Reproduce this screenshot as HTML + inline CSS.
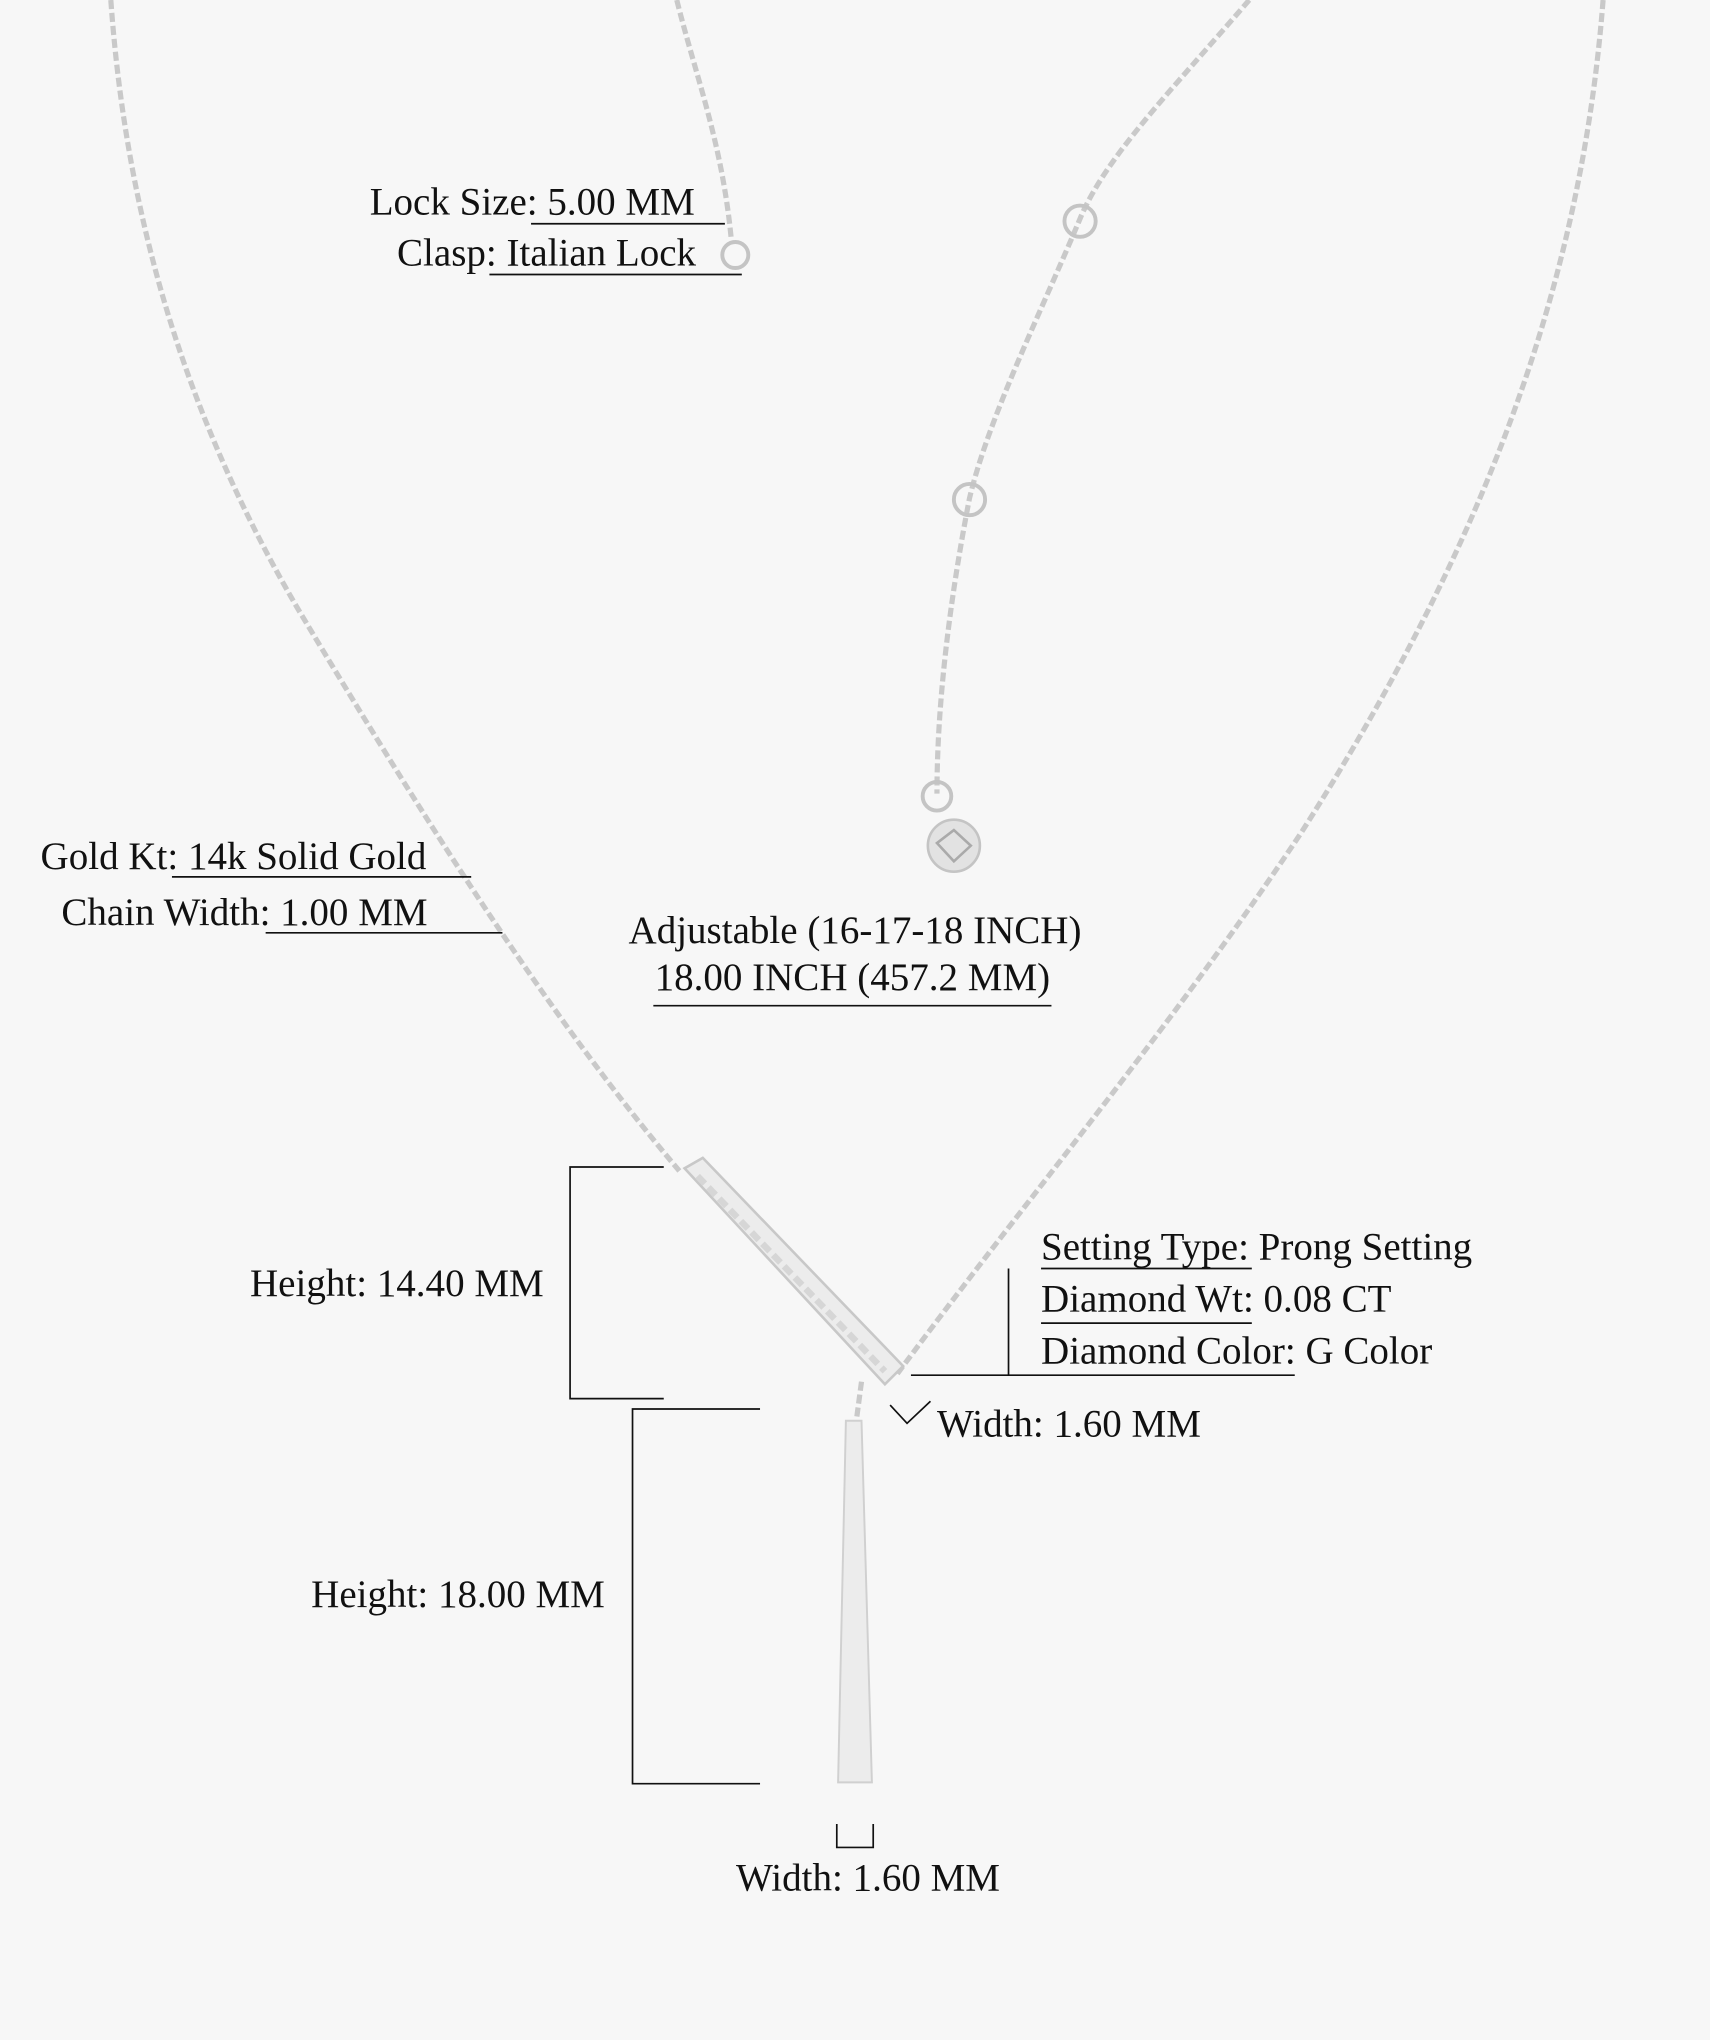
<!DOCTYPE html>
<html><head><meta charset="utf-8"><style>
html,body{margin:0;padding:0;background:#f7f7f7;}
svg{display:block}
text{font-family:"Liberation Serif",serif;font-size:30px;fill:#111;}
</style></head><body>
<svg width="1710" height="2040" viewBox="0 0 1314 1568" xmlns="http://www.w3.org/2000/svg">
<rect width="1314" height="1568" fill="#f7f7f7"/>
<g fill="none" stroke="#c9c9c9" stroke-width="4" stroke-dasharray="7 3">
<path d="M85,0 C95,140 130,300 230,470 C320,620 420,780 522,900"/>
<path d="M1232,0 C1215,220 1140,420 1000,640 C900,790 790,920 688,1058"/>
<path d="M520,0 C535,60 555,110 562,185"/>
<path d="M960,0 C900,70 850,120 830,168 C800,240 760,320 745,383 C730,460 720,540 720,610"/>
<path d="M662,1062 L658,1092"/>
</g>
<g fill="none" stroke="#c4c4c4" stroke-width="3">
<circle cx="565" cy="196" r="10"/>
<circle cx="830" cy="170" r="12"/>
<circle cx="745" cy="384" r="12"/>
<circle cx="720" cy="612" r="11"/>
</g>
<circle cx="733" cy="650" r="20" fill="#e2e2e2" stroke="#c4c4c4" stroke-width="2"/>
<path d="M720,648 L733,638 L746,650 L733,662 Z" fill="none" stroke="#aaa" stroke-width="2"/>
<polygon points="526,898 540,890 694,1050 680,1064" fill="#ececec" stroke="#c8c8c8" stroke-width="2"/>
<line x1="536" y1="904" x2="680" y2="1054" stroke="#d6d6d6" stroke-width="5" stroke-dasharray="8 4"/>
<polygon points="650,1092 662,1092 670,1370 644,1370" fill="#ececec" stroke="#d0d0d0" stroke-width="1.5"/>
<g fill="none" stroke="#111" stroke-width="1.3">
<polyline points="510,897 438,897 438,1075 510,1075"/>
<polyline points="584,1083 486,1083 486,1371 584,1371"/>
<polyline points="643,1402 643,1420 671,1420 671,1402"/>
<polyline points="684,1080 697,1094 715,1077"/>
<line x1="800" y1="975" x2="962" y2="975"/>
<line x1="800" y1="1017" x2="962" y2="1017"/>
<line x1="700" y1="1057" x2="995" y2="1057"/>
<line x1="775" y1="975" x2="775" y2="1057"/>
<line x1="408" y1="172" x2="557" y2="172"/>
<line x1="376" y1="211" x2="570" y2="211"/>
<line x1="132" y1="674" x2="362" y2="674"/>
<line x1="204" y1="717" x2="386" y2="717"/>
<line x1="502" y1="773" x2="808" y2="773"/>
</g>
<text x="284" y="165">Lock Size: 5.00 MM</text>
<text x="305" y="204">Clasp: Italian Lock</text>
<text x="31" y="668">Gold Kt: 14k Solid Gold</text>
<text x="47" y="711">Chain Width: 1.00 MM</text>
<text x="657" y="725" text-anchor="middle">Adjustable (16-17-18 INCH)</text>
<text x="655" y="761" text-anchor="middle">18.00 INCH (457.2 MM)</text>
<text x="192" y="996">Height: 14.40 MM</text>
<text x="800" y="968">Setting Type: Prong Setting</text>
<text x="800" y="1008">Diamond Wt: 0.08 CT</text>
<text x="800" y="1048">Diamond Color: G Color</text>
<text x="720" y="1104">Width: 1.60 MM</text>
<text x="239" y="1235">Height: 18.00 MM</text>
<text x="667" y="1453" text-anchor="middle">Width: 1.60 MM</text>
</svg>
</body></html>
